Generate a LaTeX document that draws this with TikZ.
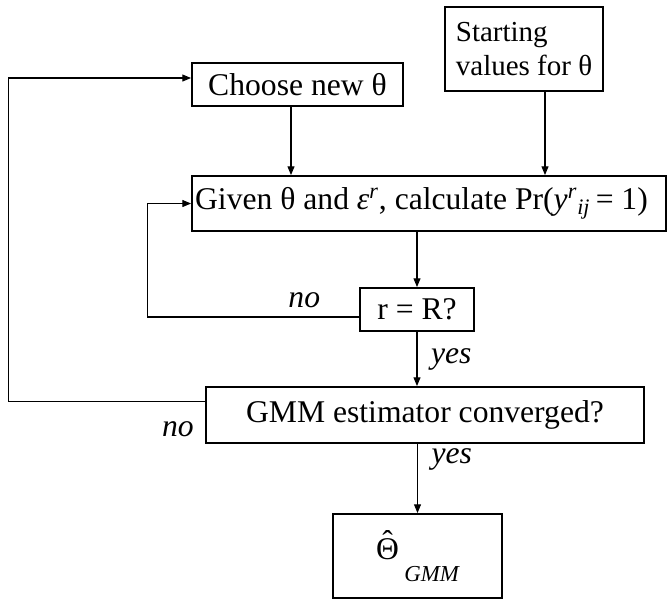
\documentclass[tikz,border=0pt]{standalone}
\usepackage{fontspec}
\setmainfont{Liberation Serif}
\usetikzlibrary{arrows.meta,positioning}

\begin{document}
\begin{tikzpicture}[x=0.02cm, y=-0.02cm,
	box/.style={draw, line width=1.1pt, inner sep=0pt, font=\fontsize{18}{19}\selectfont},
	arr/.style={line width=0.6pt, -{Triangle[length=5pt, width=4pt]}},
	lbl/.style={font=\fontsize{18}{19}\selectfont\itshape, inner sep=2pt}]
	\useasboundingbox (0,0) rectangle (669,600);
	
	%The boxes
	\node (start) [box, minimum width=3.16cm, minimum height=1.68cm, align=left, font=\fontsize{16.5}{19}\selectfont]
		at (524,49) {Starting\\values for θ};
	\node (choose) [box, minimum width=4.22cm, minimum height=0.86cm] at (297.5,84.5) {Choose new θ};
	\node (given) [box, minimum width=9.48cm, minimum height=1.1cm] at (429,203.5)
		{Given θ and \textit{ε}\textsuperscript{\textit{r}}, calculate Pr(\textit{y}\textsuperscript{\textit{r}}\textsubscript{\textit{ij}}\,= 1)\kern0.3cm};
	\node (rR) [box, minimum width=2.27cm, minimum height=0.86cm] at (417,309.5) {r = R?};
	\node (gmm) [box, minimum width=8.76cm, minimum height=1.12cm] at (425,415) {GMM estimator converged?};
	\node (theta) [box, minimum width=3.38cm, minimum height=1.68cm] at (417.5,556)
		{\accent"02C6 Θ\,\raisebox{-0.44cm}{\fontsize{13}{14}\selectfont\itshape GMM}};
	
	%Down the chart
	\draw[arr] ([xshift=0.42cm]start.south) -- ([xshift=0.42cm]start.south |- given.north);
	\draw[arr] ([xshift=-0.13cm]choose.south) -- ([xshift=-0.13cm]choose.south |- given.north);
	\draw[arr] (given.south -| rR.north) -- (rR.north);
	\draw[arr] (rR.south) -- (rR.south |- gmm.north) node (yes1) [lbl, midway, right=0.2cm] {yes};
	\draw[arr] (gmm.south -| theta.north) -- (theta.north) node (yes2) [lbl, pos=0.22, right=0.2cm] {yes};
	
	%Inner loop
	\draw[arr] ([yshift=-0.15cm]rR.west) -- ++(-211.5,0) node (no1) [lbl, pos=0.26, above=0.1cm] {no} |- (given.west);
	
	%Outer loop
	\draw[arr] ([yshift=0.27cm]gmm.west) -- ++(-196.5,0) |- ([yshift=0.13cm]choose.west);
	\node (no2) [lbl, left=0.15cm] at ([yshift=-0.28cm]gmm.west) {no};
\end{tikzpicture}
\end{document}
